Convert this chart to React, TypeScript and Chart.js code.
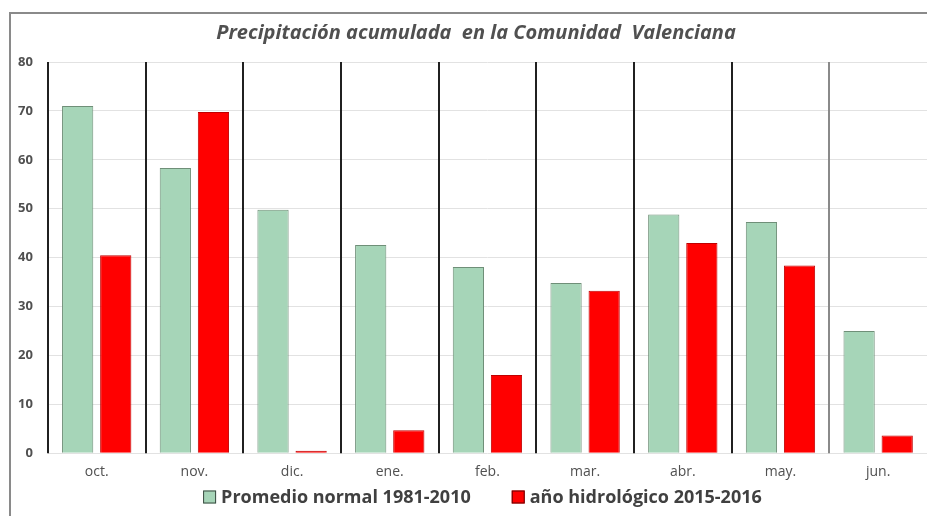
import React, { useEffect, useRef } from "react";
import { Chart, registerables } from "chart.js";

Chart.register(...registerables);

const months = ["oct.", "nov.", "dic.", "ene.", "feb.", "mar.", "abr.", "may.", "jun."];
const normalValues = [71.0, 58.3, 49.8, 42.6, 38.1, 34.8, 48.8, 47.3, 25.0];
const hydroValues = [40.5, 69.8, 0.5, 4.7, 16.0, 33.2, 43.0, 38.4, 3.6];
const yTicks = [0, 10, 20, 30, 40, 50, 60, 70, 80];
const normalLabel = "Promedio normal 1981-2010";
const hydroLabel = "año hidrológico 2015-2016";
const titleText = "Precipitación acumulada  en la Comunidad  Valenciana";

const normalColor = "#a6d5b8";
const hydroColor = "#ff0000";

const separatorPlugin = {
  id: "separators",
  beforeDatasetsDraw(chart: any) {
    const { ctx, chartArea, scales } = chart;
    const xs = scales.x;
    ctx.save();
    ctx.lineWidth = 2;
    for (let i = 0; i < months.length; i++) {
      const x =
        i === 0
          ? chartArea.left
          : (xs.getPixelForValue(i - 1) + xs.getPixelForValue(i)) / 2;
      ctx.strokeStyle = i === months.length - 1 ? "#8a8a8a" : "#202020";
      ctx.beginPath();
      ctx.moveTo(Math.round(x), chartArea.top);
      ctx.lineTo(Math.round(x), chartArea.bottom);
      ctx.stroke();
    }
    ctx.restore();
  },
};

const titlePlugin = {
  id: "customTitle",
  afterDraw(chart: any) {
    const { ctx } = chart;
    ctx.save();
    ctx.font = "italic bold 20px 'Open Sans'";
    ctx.fillStyle = "#505050";
    ctx.textAlign = "center";
    ctx.textBaseline = "middle";
    ctx.fillText(titleText, 476, 33);
    ctx.restore();
  },
};

const legendPlugin = {
  id: "customLegend",
  afterDraw(chart: any) {
    const { ctx, chartArea } = chart;
    const items = [
      { text: normalLabel, color: normalColor, stroke: "#3a4a40" },
      { text: hydroLabel, color: hydroColor, stroke: "#600000" },
    ];
    ctx.save();
    ctx.font = "bold 18px 'Open Sans'";
    ctx.textBaseline = "middle";
    const box = 13;
    const gap = 5;
    const spacing = 41;
    const widths = items.map((it) => box + gap + ctx.measureText(it.text).width);
    const total = widths[0] + spacing + widths[1];
    const center = (chartArea.left + chartArea.right) / 2 - 5;
    let x = center - total / 2;
    const y = 497;
    items.forEach((it, i) => {
      ctx.fillStyle = it.color;
      ctx.fillRect(x, y - box / 2, box, box);
      ctx.strokeStyle = it.stroke;
      ctx.lineWidth = 1;
      ctx.strokeRect(x + 0.5, y - box / 2 + 0.5, box - 1, box - 1);
      ctx.fillStyle = "#404040";
      ctx.fillText(it.text, x + box + gap, y + 1);
      x += widths[i] + spacing;
    });
    ctx.restore();
  },
};

export default function App() {
  const ref = useRef<HTMLCanvasElement | null>(null);

  useEffect(() => {
    document.body.style.margin = "0";
    const canvas = ref.current;
    if (!canvas) return;
    const chart = new Chart(canvas, {
      type: "bar",
      data: {
        labels: months,
        datasets: [
          {
            label: normalLabel,
            data: normalValues,
            backgroundColor: normalColor,
            borderColor: "#6f8f78",
            borderWidth: 1,
            categoryPercentage: 0.78,
            barPercentage: 0.82,
          },
          {
            label: hydroLabel,
            data: hydroValues,
            backgroundColor: hydroColor,
            borderColor: "#c00000",
            borderWidth: 1,
            categoryPercentage: 0.78,
            barPercentage: 0.82,
          },
        ],
      },
      options: {
        animation: false,
        responsive: false,
        maintainAspectRatio: false,
        layout: { padding: { left: 3, right: 0, top: 62, bottom: 26 } },
        plugins: {
          title: { display: false },
          legend: { display: false },
          tooltip: { enabled: false },
        },
        scales: {
          x: {
            offset: true,
            grid: { display: false, drawTicks: false },
            border: { display: false },
            ticks: {
              color: "#505050",
              font: { family: "Open Sans", size: 14 },
              padding: 10,
            },
          },
          y: {
            min: 0,
            max: 80,
            afterBuildTicks: (axis: any) => {
              axis.ticks = yTicks.map((v) => ({ value: v }));
            },
            grid: { color: "#e2e2e2", lineWidth: 1, drawTicks: false },
            border: { display: false },
            ticks: {
              color: "#505050",
              font: { family: "Open Sans", size: 13, weight: "bold" },
              padding: 15,
            },
          },
        },
      },
      plugins: [separatorPlugin, titlePlugin, legendPlugin],
    });
    return () => chart.destroy();
  }, []);

  return (
    <div style={{ position: "relative", width: 927, height: 516, overflow: "hidden", background: "#fff" }}>
      <div
        style={{
          position: "absolute",
          left: 9,
          top: 12,
          width: 2000,
          height: 2000,
          borderLeft: "2px solid #8a8a8a",
          borderTop: "2px solid #8a8a8a",
        }}
      />
      <canvas ref={ref} width={927} height={516} style={{ position: "absolute", left: 0, top: 0 }} />
    </div>
  );
}
